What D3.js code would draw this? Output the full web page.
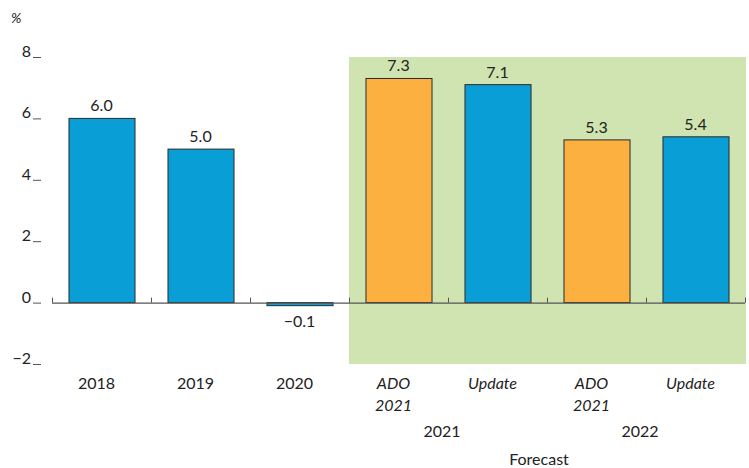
<!DOCTYPE html>
<html><head><meta charset="utf-8">
<script src="https://cdn.jsdelivr.net/npm/d3@7"></script>
<style>body{margin:0;background:#fff}svg{display:block}text{font-family:Lato,"Open Sans",sans-serif;fill:#222}</style>
</head><body><svg id="c" width="749" height="468"></svg>
<script>
const categories = ["2018","2019","2020","ADO 2021","Update 2021","ADO 2022","Update 2022"];
const values = [6.0, 5.0, -0.1, 7.3, 7.1, 5.3, 5.4];
const barLabels = ["6.0","5.0","\u22120.1","7.3","7.1","5.3","5.4"];
const barKind = ["actual","actual","actual","ado","update","ado","update"];
const tickLabels = ["\u22122","0","2","4","6","8"];
const tickValues = [-2,0,2,4,6,8];
const xLines = [["2018"],["2019"],["2020"],["ADO","2021"],["Update"],["ADO","2021"],["Update"]];
const italicCat = [false,false,false,true,true,true,true];
const groupLabels = [{label:"2021", cats:["ADO 2021","Update 2021"]},{label:"2022", cats:["ADO 2022","Update 2022"]}];

const svg = d3.select("#c");
const x = d3.scaleBand().domain(categories).range([52,745]).paddingInner(0.333).paddingOuter(0.1665);
const y = d3.scaleLinear().domain([-2,8]).range([364,57]);
const color = {actual:"#099fd6", update:"#099fd6", ado:"#fbb040"};

// forecast shading
const fx0 = x("ADO 2021") - x.step()*x.paddingInner()/2;
svg.append("rect").attr("x", fx0).attr("y", y(8)).attr("width", 746 - fx0).attr("height", y(-2)-y(8)).attr("fill","#cfe4b0");

// y axis ticks
const yg = svg.append("g");
tickValues.forEach((v,i)=>{
  yg.append("text").attr("x",31).attr("y",y(v)).attr("text-anchor","end").attr("font-size",16).text(tickLabels[i]);
  yg.append("line").attr("x1",33).attr("x2",41).attr("y1",y(v)+0.5).attr("y2",y(v)+0.5).attr("stroke","#555").attr("stroke-width",1);
});
svg.append("text").attr("x",11).attr("y",23).attr("font-size",14).attr("font-style","italic").text("%");

// bars
svg.selectAll("rect.bar").data(values).enter().append("rect").attr("class","bar")
  .attr("x",(d,i)=>x(categories[i])+0.5)
  .attr("y",d=>y(Math.max(0,d)))
  .attr("width",x.bandwidth())
  .attr("height",d=>Math.abs(y(d)-y(0)))
  .attr("fill",(d,i)=>color[barKind[i]])
  .attr("stroke","#2b2b2b").attr("stroke-width",1);

// zero line and category ticks
svg.append("line").attr("x1",52).attr("x2",745).attr("y1",y(0)+0.5).attr("y2",y(0)+0.5).attr("stroke","#555").attr("stroke-width",1.2);
const bounds = categories.map(c=>x(c)-x.step()*x.paddingInner()/2).concat([745]);
bounds.forEach(b=>{
  svg.append("line").attr("x1",Math.round(b)+0.5).attr("x2",Math.round(b)+0.5).attr("y1",y(0)).attr("y2",y(0)-5).attr("stroke","#555");
});

// value labels
values.forEach((v,i)=>{
  const cx = x(categories[i])+x.bandwidth()/2;
  svg.append("text").attr("x",cx).attr("y", v>=0 ? y(v)-7 : y(v)+21).attr("text-anchor","middle").attr("font-size",16).text(barLabels[i]);
});

// category labels
xLines.forEach((lines,i)=>{
  const cx = x(categories[i])+x.bandwidth()/2 - 5;
  lines.forEach((t,j)=>{
    svg.append("text").attr("x",cx).attr("y",389+j*22).attr("text-anchor","middle").attr("font-size",16)
      .attr("font-style", italicCat[i]?"italic":"normal").text(t);
  });
});
groupLabels.forEach(g=>{
  const a = x(g.cats[0]), b = x(g.cats[1])+x.bandwidth();
  svg.append("text").attr("x",(a+b)/2-6).attr("y",437).attr("text-anchor","middle").attr("font-size",16).text(g.label);
});
svg.append("text").attr("x",539).attr("y",465).attr("text-anchor","middle").attr("font-size",16).text("Forecast");
</script></body></html>
